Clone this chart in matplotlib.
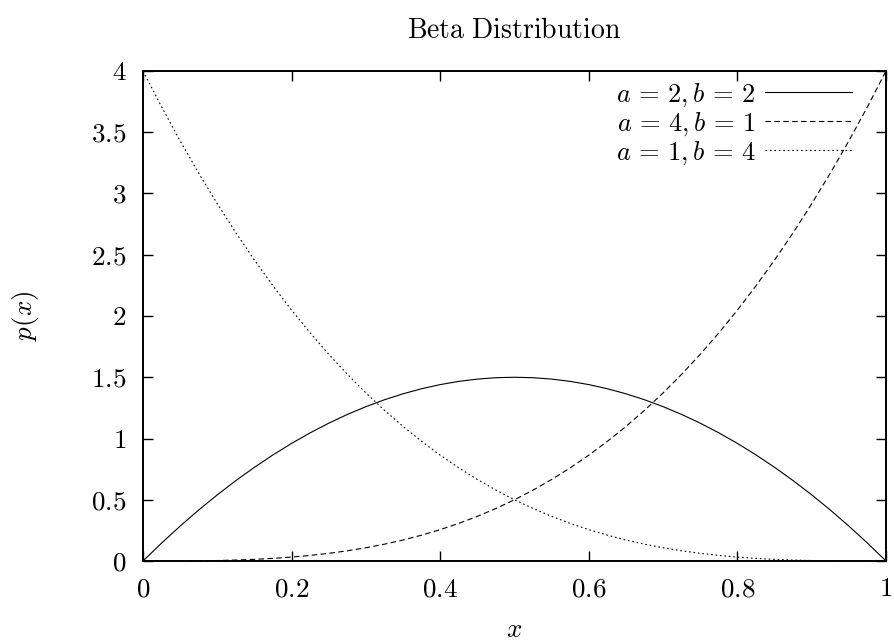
import matplotlib
matplotlib.use("Agg")
import matplotlib.pyplot as plt

# x sample positions and curve values
x = [0.000, 0.025, 0.050, 0.075, 0.100, 0.125, 0.150, 0.175, 0.200, 0.225,
     0.250, 0.275, 0.300, 0.325, 0.350, 0.375, 0.400, 0.425, 0.450, 0.475,
     0.500, 0.525, 0.550, 0.575, 0.600, 0.625, 0.650, 0.675, 0.700, 0.725,
     0.750, 0.775, 0.800, 0.825, 0.850, 0.875, 0.900, 0.925, 0.950, 0.975, 1.000]
p_a2_b2 = [0.0, 0.1463, 0.285, 0.4163, 0.54, 0.6563, 0.765, 0.8663, 0.96, 1.0463,
           1.125, 1.1963, 1.26, 1.3163, 1.365, 1.4063, 1.44, 1.4663, 1.485, 1.4963,
           1.5, 1.4963, 1.485, 1.4663, 1.44, 1.4063, 1.365, 1.3163, 1.26, 1.1963,
           1.125, 1.0463, 0.96, 0.8663, 0.765, 0.6563, 0.54, 0.4163, 0.285, 0.1463, 0.0]
p_a4_b1 = [0.0, 0.0001, 0.0005, 0.0017, 0.004, 0.0078, 0.0135, 0.0214, 0.032, 0.0456,
           0.0625, 0.0832, 0.108, 0.1373, 0.1715, 0.2109, 0.256, 0.3071, 0.3645, 0.4287,
           0.5, 0.5788, 0.6655, 0.7604, 0.864, 0.9766, 1.0985, 1.2302, 1.372, 1.5243,
           1.6875, 1.8619, 2.048, 2.2461, 2.4565, 2.6797, 2.916, 3.1658, 3.4295, 3.7074, 4.0]
p_a1_b4 = [4.0, 3.7074, 3.4295, 3.1658, 2.916, 2.6797, 2.4565, 2.2461, 2.048, 1.8619,
           1.6875, 1.5243, 1.372, 1.2302, 1.0985, 0.9766, 0.864, 0.7604, 0.6655, 0.5788,
           0.5, 0.4287, 0.3645, 0.3071, 0.256, 0.2109, 0.1715, 0.1373, 0.108, 0.0832,
           0.0625, 0.0456, 0.032, 0.0214, 0.0135, 0.0078, 0.004, 0.0017, 0.0005, 0.0001, 0.0]
labels = [r"$a\,=\,2, b\,=\,2$", r"$a\,=\,4, b\,=\,1$", r"$a\,=\,1, b\,=\,4$"]
xticks = [0, 0.2, 0.4, 0.6, 0.8, 1]
xticklabels = ["0", "0.2", "0.4", "0.6", "0.8", "1"]
yticks = [0, 0.5, 1, 1.5, 2, 2.5, 3, 3.5, 4]
yticklabels = ["0", "0.5", "1", "1.5", "2", "2.5", "3", "3.5", "4"]

plt.rcParams["mathtext.fontset"] = "cm"
plt.rcParams["font.family"] = "serif"
plt.rcParams["font.serif"] = ["cmr10", "DejaVu Serif"]

fig = plt.figure(figsize=(8.94, 6.44), dpi=100)
ax = fig.add_axes([143/894, 1 - 561/644, (886-143)/894, (561-71)/644])

lw = 0.8
ax.plot(x, p_a2_b2, color="black", lw=lw, linestyle="-", label=labels[0])
ax.plot(x, p_a4_b1, color="black", lw=lw, linestyle=(0, (5, 3)), label=labels[1])
ax.plot(x, p_a1_b4, color="black", lw=lw, linestyle=(0, (1.5, 2.5)), label=labels[2])

fs = 19.5
ax.set_xlim(0, 1)
ax.set_ylim(0, 4)
ax.set_xticks(xticks)
ax.set_xticklabels([f"${t}$" for t in xticklabels], fontsize=fs)
ax.set_yticks(yticks)
ax.set_yticklabels([f"${t}$" for t in yticklabels], fontsize=fs)
ax.tick_params(direction="in", top=True, right=True, length=7, width=1)
ax.tick_params(axis="x", pad=12)
ax.tick_params(axis="y", pad=12)
for s in ax.spines.values():
    s.set_linewidth(1.4)

ax.set_xlabel(r"$x$", fontsize=fs, labelpad=12)
ax.set_ylabel(r"$p(x)$", fontsize=fs, labelpad=36)
ax.set_title(r"$\mathrm{Beta\ Distribution}$", fontsize=20, pad=24)

leg = fig.legend(loc="upper right", bbox_to_anchor=(852/894, 1 - 81/644),
                 frameon=False, markerfirst=False,
                 fontsize=19, handlelength=3.3, handletextpad=0.35,
                 labelspacing=0.06, borderaxespad=0.0, borderpad=0.0)

fig.savefig("out.png", dpi=100)
